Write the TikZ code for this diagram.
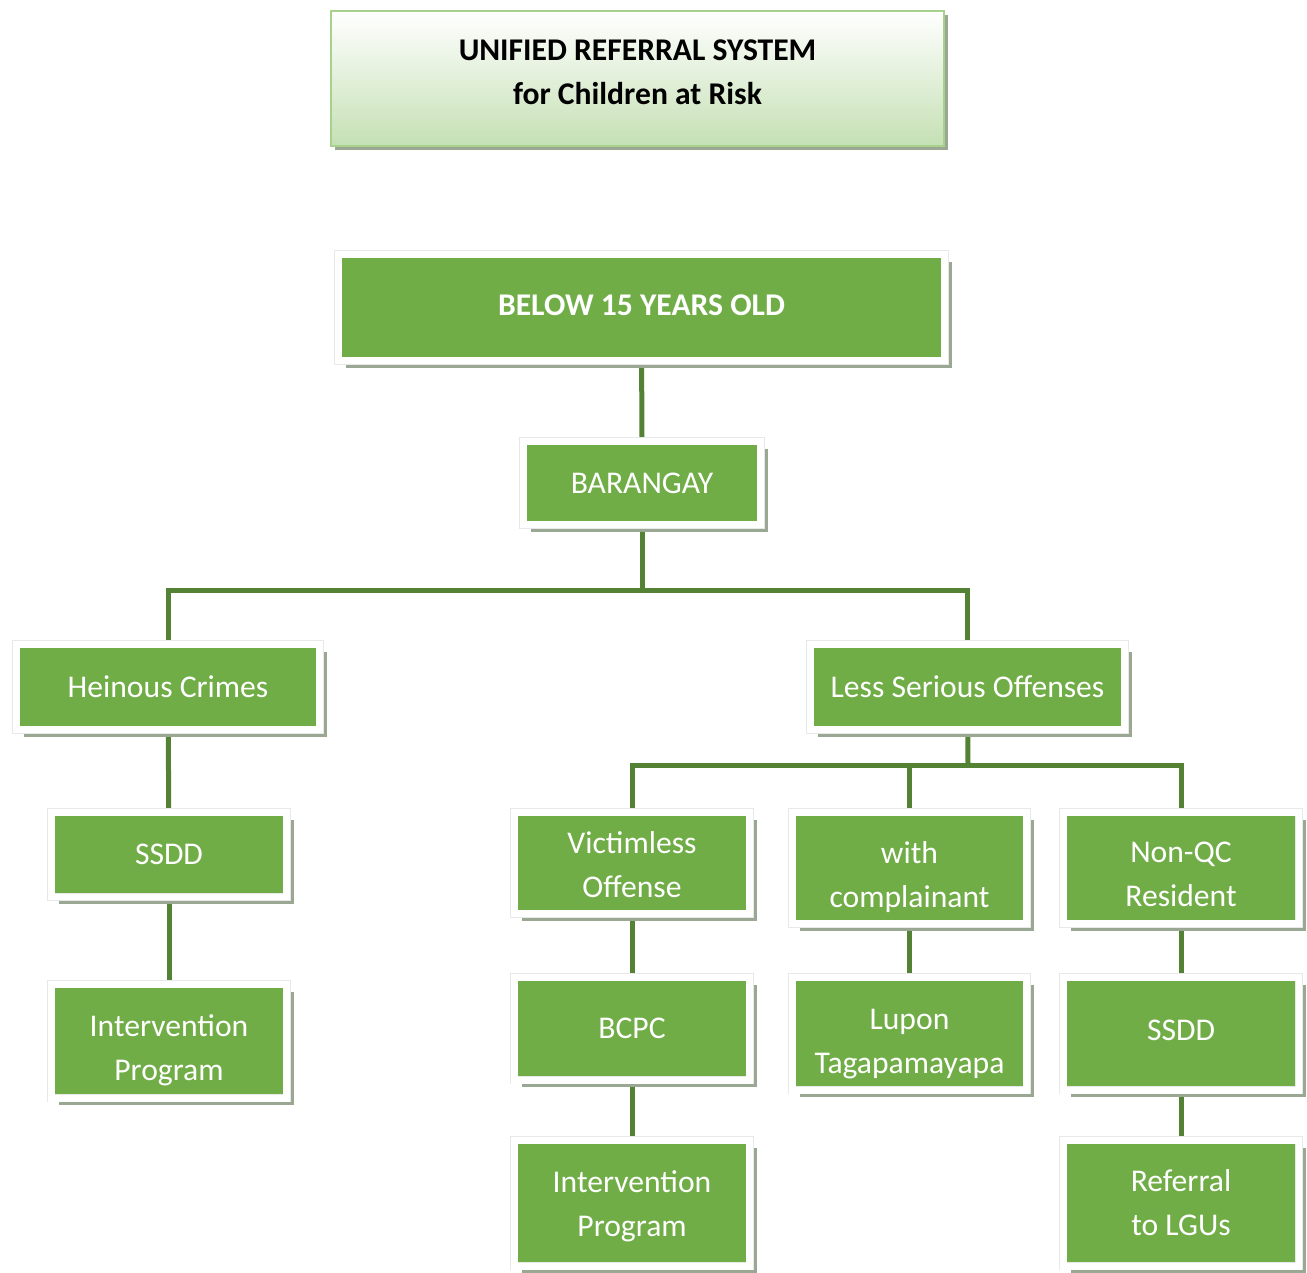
\documentclass[tikz,border=0pt]{standalone}
\usepackage{fontspec}
\setmainfont{Carlito}
\usepackage{tikz}
\usetikzlibrary{positioning, shadows, backgrounds}

\definecolor{boxgreen}{HTML}{70AD47}
\definecolor{linegreen}{HTML}{548235}
\definecolor{shadowgrey}{HTML}{9AA893}
\definecolor{titlegreen}{HTML}{C5E0B4}
\definecolor{titleedge}{HTML}{A9D18E}

% invisible struts to nudge the text inside a box
\newcommand\topstrut[1]{\rule{0pt}{#1}}
\newcommand\botstrut[1]{\rule[-#1]{0pt}{0pt}}

\begin{document}
\begin{tikzpicture}[
    x=0.02cm, y=-0.02cm,
    box/.style={
        fill=boxgreen,
        draw=black!9,
        double=white,
        double distance=0.14cm,
        line width=0.01cm,
        text=white,
        inner sep=0pt,
        align=center,
        font=\fontsize{18}{25}\selectfont,
        drop shadow={shadow xshift=0.15cm, shadow yshift=-0.15cm,
            fill=shadowgrey, opacity=1}
    },
    titlebox/.style={
        top color=white,
        bottom color=titlegreen,
        draw=titleedge,
        line width=0.04cm,
        inner sep=0pt,
        align=center,
        font=\bfseries\fontsize{18}{25}\selectfont,
        drop shadow={shadow xshift=0.08cm, shadow yshift=-0.08cm,
            fill=shadowgrey, opacity=1}
    },
    link/.style={draw=linegreen, line width=0.1cm}
]
\useasboundingbox (0,0) rectangle (1307,1273);

\node[titlebox, minimum width=12.26cm, minimum height=2.70cm] (title) at (637.5,78.5)
    {UNIFIED REFERRAL SYSTEM\\for Children at Risk\botstrut{6.8pt}};

\node[box, font=\bfseries\fontsize{18}{25}\selectfont,
      minimum width=12.14cm, minimum height=2.14cm] (below) at (641.5,307.5) {BELOW 15 YEARS OLD\botstrut{3pt}};
\node[box, minimum width=4.76cm, minimum height=1.68cm] (barangay) at (642,483) {BARANGAY};

\node[box, minimum width=6.08cm, minimum height=1.72cm] (heinous) at (168,687) {Heinous Crimes};
\node[box, minimum width=6.30cm, minimum height=1.72cm] (lso) at (967.5,687) {Less Serious Offenses};

% heinous crimes branch
\node[box, minimum width=4.72cm, minimum height=1.70cm] (ssddL) at (169,854.5) {SSDD};
\node[box, minimum width=4.72cm, minimum height=2.28cm] (progL) at (169,1041) {\topstrut{23.4pt}Intervention\\Program};

% less serious offenses branch
\node[box, minimum width=4.72cm, minimum height=2.04cm] (victimless) at (632,863) {\topstrut{14.5pt}Victimless\\Offense};
\node[box, minimum width=4.70cm, minimum height=2.24cm] (complainant) at (909.5,868) {\topstrut{22.8pt}with\\complainant};
\node[box, minimum width=4.72cm, minimum height=2.24cm] (nonqc) at (1181,868) {\topstrut{19.4pt}Non-QC\\Resident};

\node[box, minimum width=4.72cm, minimum height=2.06cm] (bcpc) at (632,1028.5) {BCPC};
\node[box, minimum width=4.70cm, minimum height=2.26cm] (lupon) at (909.5,1033.5) {\topstrut{23.9pt}Lupon\\Tagapamayapa};
\node[box, minimum width=4.72cm, minimum height=2.26cm] (ssddR) at (1181,1033.5) {SSDD\botstrut{3.4pt}};

\node[box, minimum width=4.72cm, minimum height=2.52cm] (progM) at (632,1203) {\topstrut{16.6pt}Intervention\\Program};
\node[box, minimum width=4.72cm, minimum height=2.52cm] (referral) at (1181,1203) {Referral\\to LGUs};

\coordinate (split1) at (642,590);
\coordinate (split2) at (968,765);

\begin{scope}[on background layer]
\draw[link] (below) -- (barangay);
\draw[link] (barangay) -- (split1);
\draw[link] (heinous.north) |- (split1) -| (lso.north);
\draw[link] (heinous) -- (ssddL);
\draw[link] (ssddL) -- (progL);
\draw[link] (lso) -- (split2);
\draw[link] (victimless.north) |- (split2) -| (nonqc.north);
\draw[link] (complainant.north) -- (complainant.north |- split2);
\draw[link] (victimless) -- (bcpc);
\draw[link] (bcpc) -- (progM);
\draw[link] (complainant) -- (lupon);
\draw[link] (nonqc) -- (ssddR);
\draw[link] (ssddR) -- (referral);
\end{scope}

\end{tikzpicture}
\end{document}
